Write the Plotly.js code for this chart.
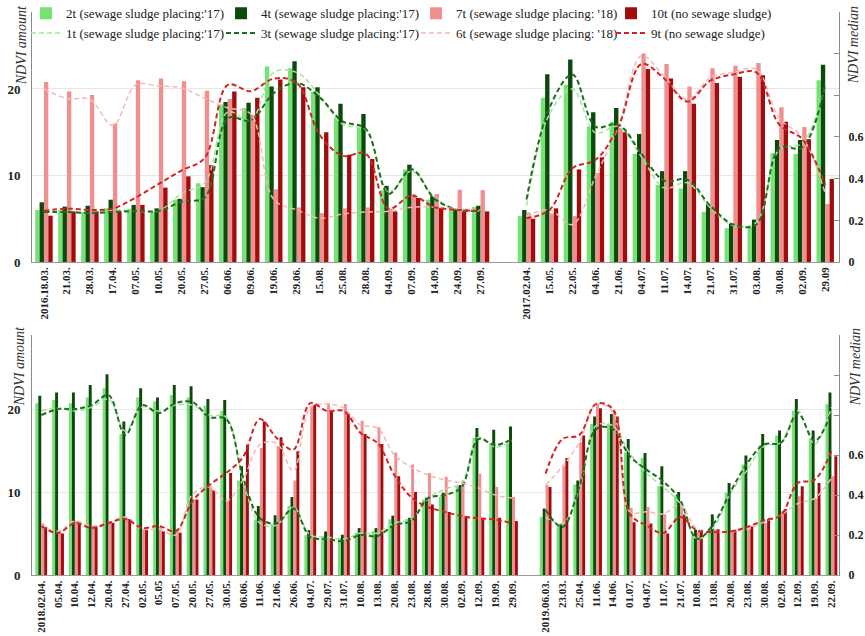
<!DOCTYPE html>
<html>
<head>
<meta charset="utf-8">
<script src="https://cdn.plot.ly/plotly-3.0.1.min.js"></script>
<style>
  html, body { margin: 0; padding: 0; background: #fff; }
  #chart { width: 865px; height: 636px; }
</style>
</head>
<body>
<div id="chart"></div>
<script>
// ---- Observation dates ----
const dates2016 = ['2016.18.03.','21.03.','28.03.','17.04.','07.05.','10.05.','20.05.','27.05.','06.06.','09.06.','19.06.','29.06.','15.08.','25.08.','28.08.','04.09.','07.09.','14.09.','24.09.','27.09.'];
const dates2017 = ['2017.02.04.','15.05.','22.05.','04.06.','21.06.','04.07.','11.07.','14.07.','21.07.','31.07.','03.08.','30.08.','02.09.','29.09'];
const dates2018 = ['2018.02.04.','05.04.','10.04.','12.04.','20.04.','27.04.','02.05.','05.05','07.05.','20.05.','27.05.','30.05.','06.06.','11.06.','21.06.','26.06.','04.07.','29.07.','31.07.','10.08.','13.08.','20.08.','23.08.','28.08.','30.08.','02.09.','12.09.','19.09.','29.09.'];
const dates2019 = ['2019.06.03.','23.03.','25.04.','11.06.','14.06.','01.07.','04.07.','11.07.','21.07.','10.08.','13.08.','20.08.','23.08.','30.08.','02.09.','12.09.','19.09.','22.09.'];

// ---- NDVI amount (bars) ----
const amt2t_2016  = [6.0, 6.0, 5.8, 6.2, 6.1, 5.8, 7.2, 9.1, 18.2, 17.8, 22.6, 22.4, 19.7, 16.7, 15.6, 8.3, 10.7, 7.2, 6.1, 6.35];
const amt4t_2016  = [6.9, 6.4, 6.5, 7.2, 6.6, 6.2, 7.3, 8.65, 18.5, 18.4, 20.3, 23.2, 20.2, 18.3, 17.1, 8.8, 11.25, 7.6, 6.1, 6.5];
const amt7t_2016  = [20.8, 19.7, 19.3, 16.0, 21.0, 21.2, 20.9, 19.8, 18.85, 17.0, 8.4, 6.3, 5.65, 6.2, 6.3, 6.1, 7.8, 7.85, 8.35, 8.3];
const amt10t_2016 = [5.35, 5.85, 5.85, 5.85, 6.6, 8.6, 9.9, 11.2, 19.7, 19.0, 21.1, 20.2, 15.0, 12.4, 11.9, 5.85, 7.4, 6.25, 6.05, 5.85];

const amt2t_2017  = [5.3, 19.0, 20.5, 15.65, 16.2, 12.5, 8.9, 8.5, 5.8, 3.9, 4.1, 12.6, 12.5, 21.0];
const amt4t_2017  = [6.0, 21.7, 23.4, 17.3, 17.8, 14.8, 10.5, 10.5, 6.7, 4.4, 4.9, 14.1, 14.1, 22.8];
const amt7t_2017  = [5.7, 5.6, 5.3, 10.3, 15.5, 24.1, 22.9, 20.3, 22.4, 22.7, 23.0, 17.9, 15.6, 6.7];
const amt10t_2017 = [5.0, 6.2, 10.7, 12.1, 15.0, 22.3, 21.2, 18.3, 20.7, 21.4, 21.6, 16.2, 14.2, 9.6];

const amt2t_2018  = [20.7, 21.1, 20.7, 21.4, 22.5, 17.0, 21.4, 20.9, 21.7, 21.4, 20.4, 19.8, 11.4, 6.7, 6.1, 8.3, 4.8, 4.65, 4.45, 5.05, 5.25, 6.7, 6.75, 9.1, 9.4, 10.7, 16.5, 15.9, 15.9];
const amt4t_2018  = [21.6, 22.0, 22.0, 22.9, 24.2, 18.5, 22.5, 21.4, 22.9, 22.75, 21.2, 21.1, 13.1, 8.3, 7.2, 9.4, 5.4, 5.25, 4.85, 5.65, 5.65, 7.15, 6.9, 9.3, 9.9, 10.85, 17.7, 17.5, 17.9];
const amt7t_2018  = [6.2, 5.45, 6.5, 5.9, 6.5, 6.75, 5.5, 5.8, 5.45, 9.1, 10.7, 8.9, 11.0, 15.3, 15.5, 11.4, 20.4, 20.7, 20.6, 18.6, 17.8, 14.75, 13.3, 12.3, 11.85, 11.4, 12.2, 10.6, 9.4];
const amt10t_2018 = [5.8, 5.0, 6.3, 5.85, 6.3, 6.75, 5.45, 5.25, 5.1, 9.1, 10.2, 12.3, 15.7, 18.5, 16.6, 14.9, 20.5, 19.8, 19.4, 17.0, 15.8, 11.9, 10.0, 8.5, 7.6, 7.1, 6.9, 6.9, 6.5];

const amt2t_2019  = [7.0, 5.85, 10.9, 18.2, 18.2, 14.75, 14.1, 10.7, 9.5, 4.65, 5.45, 9.9, 13.3, 15.6, 16.8, 19.8, 16.4, 20.6];
const amt4t_2019  = [8.0, 6.2, 11.4, 19.1, 19.4, 16.4, 14.7, 13.1, 10.0, 5.45, 7.3, 11.1, 14.4, 17.0, 17.4, 21.2, 17.4, 22.0];
const amt7t_2019  = [10.85, 13.1, 16.0, 20.6, 19.8, 8.1, 8.2, 7.3, 8.5, 5.25, 5.5, 5.45, 5.5, 6.25, 7.7, 9.5, 9.2, 11.9];
const amt10t_2019 = [10.6, 14.1, 16.8, 20.1, 19.1, 6.35, 6.2, 5.0, 7.3, 5.45, 5.5, 5.45, 5.85, 6.75, 7.95, 10.7, 11.1, 14.3];

// ---- NDVI median (dashed lines) ----
const med1t_2016 = [0.24, 0.24, 0.235, 0.25, 0.245, 0.245, 0.33, 0.38, 0.72, 0.68, 0.91, 0.91, 0.80, 0.66, 0.635, 0.335, 0.437, 0.31, 0.251, 0.245];
const med3t_2016 = [0.24, 0.24, 0.235, 0.24, 0.245, 0.245, 0.29, 0.31, 0.69, 0.68, 0.81, 0.86, 0.79, 0.675, 0.64, 0.327, 0.445, 0.303, 0.251, 0.245];
const med6t_2016 = [0.83, 0.785, 0.78, 0.655, 0.85, 0.845, 0.835, 0.785, 0.74, 0.71, 0.30, 0.25, 0.21, 0.23, 0.24, 0.243, 0.263, 0.263, 0.255, 0.25];
const med9t_2016 = [0.245, 0.256, 0.25, 0.256, 0.31, 0.375, 0.44, 0.50, 0.85, 0.82, 0.88, 0.86, 0.61, 0.51, 0.52, 0.256, 0.319, 0.263, 0.251, 0.245];

const med1t_2017 = [0.27, 0.71, 0.83, 0.62, 0.65, 0.505, 0.355, 0.38, 0.26, 0.175, 0.19, 0.54, 0.57, 0.845];
const med3t_2017 = [0.30, 0.74, 0.90, 0.65, 0.66, 0.52, 0.39, 0.395, 0.27, 0.18, 0.18, 0.545, 0.55, 0.85];
const med6t_2017 = [0.22, 0.25, 0.18, 0.41, 0.65, 0.99, 0.89, 0.78, 0.885, 0.91, 0.925, 0.69, 0.60, 0.33];
const med9t_2017 = [0.21, 0.25, 0.45, 0.49, 0.65, 0.95, 0.88, 0.77, 0.87, 0.90, 0.91, 0.66, 0.59, 0.37];

const med1t_2018 = [0.82, 0.835, 0.82, 0.84, 0.88, 0.72, 0.84, 0.82, 0.85, 0.85, 0.80, 0.79, 0.47, 0.26, 0.25, 0.34, 0.20, 0.19, 0.18, 0.21, 0.21, 0.26, 0.28, 0.38, 0.43, 0.46, 0.69, 0.64, 0.67];
const med3t_2018 = [0.80, 0.83, 0.83, 0.85, 0.90, 0.70, 0.85, 0.81, 0.86, 0.865, 0.79, 0.78, 0.49, 0.285, 0.258, 0.333, 0.19, 0.18, 0.17, 0.20, 0.195, 0.25, 0.27, 0.384, 0.40, 0.44, 0.68, 0.65, 0.68];
const med6t_2018 = [0.25, 0.22, 0.27, 0.245, 0.26, 0.29, 0.23, 0.23, 0.20, 0.405, 0.44, 0.37, 0.476, 0.652, 0.66, 0.52, 0.837, 0.855, 0.835, 0.75, 0.735, 0.60, 0.54, 0.50, 0.476, 0.46, 0.435, 0.40, 0.385];
const med9t_2018 = [0.245, 0.21, 0.26, 0.235, 0.26, 0.28, 0.235, 0.245, 0.22, 0.37, 0.45, 0.51, 0.59, 0.78, 0.686, 0.627, 0.86, 0.82, 0.82, 0.71, 0.66, 0.50, 0.39, 0.34, 0.316, 0.295, 0.283, 0.278, 0.258];

const med1t_2019 = [0.29, 0.257, 0.425, 0.747, 0.747, 0.61, 0.51, 0.44, 0.358, 0.18, 0.24, 0.41, 0.527, 0.645, 0.662, 0.823, 0.654, 0.84];
const med3t_2019 = [0.325, 0.24, 0.44, 0.73, 0.73, 0.595, 0.527, 0.468, 0.375, 0.18, 0.257, 0.417, 0.56, 0.654, 0.662, 0.81, 0.67, 0.814];
const med6t_2019 = [0.45, 0.544, 0.662, 0.856, 0.814, 0.316, 0.316, 0.307, 0.35, 0.23, 0.215, 0.215, 0.23, 0.265, 0.3, 0.358, 0.383, 0.485];
const med9t_2019 = [0.507, 0.68, 0.70, 0.856, 0.83, 0.307, 0.248, 0.21, 0.29, 0.223, 0.215, 0.218, 0.24, 0.274, 0.3, 0.46, 0.476, 0.62];

// ---- Series labels ----
const barNames  = ["2t (sewage sludge placing:'17)", "4t (sewage sludge placing:'17)", "7t (sewage sludge placing: '18)", "10t (no sewage sludge)"];
const lineNames = ["1t (sewage sludge placing:'17)", "3t (sewage sludge placing:'17)", "6t (sewage sludge placing: '18)", "9t (no sewage sludge)"];

// ---- Styling ----
const SERIF = 'Liberation Serif, Times New Roman, serif';
const barColors  = ['#74e374', '#0b4a0b', '#ef8f8f', '#a10d0d'];
const lineColors = ['#9de89d', '#1f6e1f', '#f5b9b9', '#d42323'];
const lineWidths = [1.5, 2, 1.5, 2];

// Two seasons per panel, separated by one empty slot on the axis.
function season(a, b) {
  const x = [], y = [];
  a.forEach((v, i) => { x.push(i); y.push(v); });
  x.push(a.length); y.push(null);
  b.forEach((v, i) => { x.push(a.length + 1 + i); y.push(v); });
  return { x, y };
}
function positions(a, b) {
  return a.map((_, i) => i).concat(b.map((_, i) => a.length + 1 + i));
}

const panels = [
  {
    xa: 'x', ya: 'y', ya2: 'y2', legend: true, w: 0.19,
    bars:  [[amt2t_2016, amt2t_2017], [amt4t_2016, amt4t_2017], [amt7t_2016, amt7t_2017], [amt10t_2016, amt10t_2017]],
    lines: [[med1t_2016, med1t_2017], [med3t_2016, med3t_2017], [med6t_2016, med6t_2017], [med9t_2016, med9t_2017]]
  },
  {
    xa: 'x2', ya: 'y3', ya2: 'y4', legend: false, w: 0.175,
    bars:  [[amt2t_2018, amt2t_2019], [amt4t_2018, amt4t_2019], [amt7t_2018, amt7t_2019], [amt10t_2018, amt10t_2019]],
    lines: [[med1t_2018, med1t_2019], [med3t_2018, med3t_2019], [med6t_2018, med6t_2019], [med9t_2018, med9t_2019]]
  }
];

const traces = [];
panels.forEach(p => {
  p.bars.forEach((pair, k) => {
    const s = season(pair[0], pair[1]);
    traces.push({
      type: 'bar', x: s.x, y: s.y, name: barNames[k],
      xaxis: p.xa, yaxis: p.ya,
      width: p.w, offset: -2 * p.w + k * p.w,
      marker: { color: barColors[k], line: { width: 0 } },
      showlegend: p.legend, hoverinfo: 'skip'
    });
  });
});
panels.forEach(p => {
  p.lines.forEach((pair, k) => {
    const s = season(pair[0], pair[1]);
    traces.push({
      type: 'scatter', mode: 'lines', x: s.x, y: s.y, name: lineNames[k],
      xaxis: p.xa, yaxis: p.ya2, connectgaps: false,
      line: { color: lineColors[k], width: lineWidths[k], dash: '5px,3px', shape: 'spline', smoothing: 1 },
      showlegend: p.legend, hoverinfo: 'skip'
    });
  });
});

const tickFont = { family: SERIF, size: 11, color: '#222', weight: 'bold' };
const leftFont = { family: SERIF, size: 13, color: '#222', weight: 'bold' };
const rightFont = { family: SERIF, size: 12, color: '#222', weight: 'bold' };
const medVals = [0, 0.2, 0.4, 0.6, 0.8, 1.0, 1.2];
const medText = ['0', '0.2', '0.4', '0.6', '', '', ''];

function xAxis(anchor, a, b, range) {
  return {
    anchor, domain: [0, 1], range,
    tickmode: 'array', tickvals: positions(a, b), ticktext: a.concat(b),
    tickangle: -90, tickfont: tickFont, ticks: '',
    showgrid: false, zeroline: false, showline: true, linecolor: '#9a9a9a', linewidth: 1
  };
}
function amountAxis(anchor, domain) {
  return {
    anchor, domain, range: [0, 28.9],
    tickmode: 'array', tickvals: [0, 10, 20], tickfont: leftFont,
    ticks: '', ticklabelstandoff: 8,
    showgrid: true, gridcolor: '#e6e6e6', gridwidth: 1, zeroline: false,
    showline: true, linecolor: '#8a8a8a', linewidth: 1
  };
}
function medianAxis(anchor, over) {
  return {
    anchor, overlaying: over, side: 'right', range: [0, 1.2],
    tickmode: 'array', tickvals: medVals, ticktext: medText, tickfont: rightFont,
    ticks: 'inside', ticklen: 5, tickcolor: '#8a8a8a', ticklabelstandoff: 6,
    showgrid: false, zeroline: false, showline: true, linecolor: '#8a8a8a', linewidth: 1
  };
}

const titleFont = { family: SERIF, size: 14, color: '#333', style: 'italic' };
function axisNote(text, x, y) {
  return { text, xref: 'paper', yref: 'paper', x, y, xanchor: 'center', yanchor: 'middle',
           textangle: -90, showarrow: false, font: titleFont };
}

const layout = {
  width: 865, height: 636,
  margin: { l: 32, r: 26, t: 12, b: 61, pad: 0, autoexpand: false },
  paper_bgcolor: '#ffffff', plot_bgcolor: '#ffffff',
  barmode: 'overlay',
  showlegend: true,
  legend: {
    orientation: 'h', x: -0.0074, xanchor: 'left', y: 1.0245, yanchor: 'top',
    entrywidth: 150, entrywidthmode: 'pixels', traceorder: 'normal',
    bgcolor: 'rgba(0,0,0,0)', itemwidth: 30,
    font: { family: SERIF, size: 13, color: '#222' }
  },
  xaxis:  xAxis('y', dates2016, dates2017, [-0.52, 34.6]),
  yaxis:  amountAxis('x', [0.556, 1]),
  yaxis2: medianAxis('x', 'y'),
  xaxis2: xAxis('y3', dates2018, dates2019, [-0.55, 47.45]),
  yaxis3: amountAxis('x2', [0, 0.426]),
  yaxis4: medianAxis('x2', 'y3'),
  annotations: [
    axisNote('NDVI amount', -0.013, 0.94),
    axisNote('NDVI median', 1.018, 0.94),
    axisNote('NDVI amount', -0.016, 0.371),
    axisNote('NDVI median', 1.0205, 0.368)
  ]
};

Plotly.newPlot('chart', traces, layout, { displayModeBar: false, staticPlot: true });
</script>
</body>
</html>
